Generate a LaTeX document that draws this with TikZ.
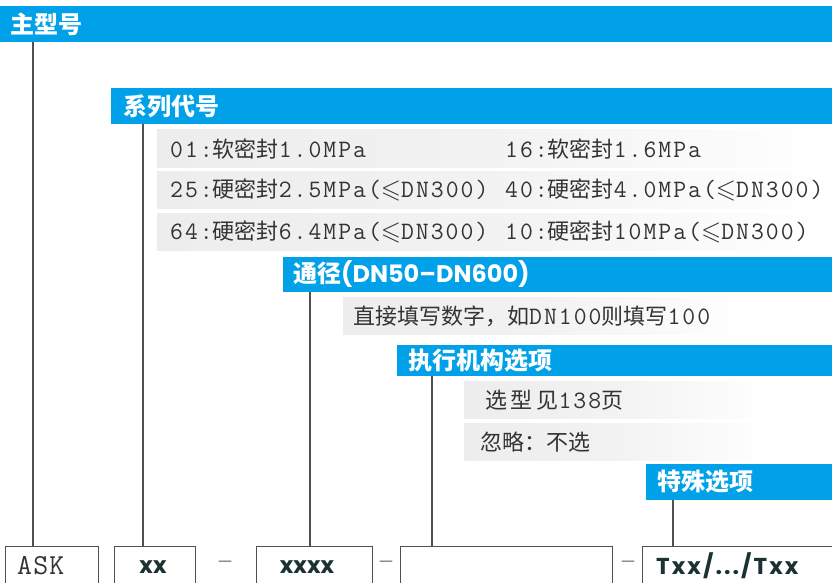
\documentclass[tikz,border=0pt]{standalone}
\usepackage{fontspec}
\usepackage{amssymb}
\newfontfamily\cjk{Noto Sans CJK SC}
\newfontfamily\lmt{Latin Modern Mono}[LetterSpace=8]
\newfontfamily\askfont{Latin Modern Mono}[LetterSpace=4]
\newfontfamily\pop{Poppins}
\newfontfamily\popw{Poppins}[LetterSpace=9]
\newfontfamily\dejavfont{DejaVu Sans}
\definecolor{barblue}{RGB}{0,161,233}
\definecolor{txtgray}{RGB}{51,51,51}
\definecolor{linegray}{RGB}{80,80,80}
\definecolor{rowgray}{RGB}{237,237,237}
\definecolor{codedark}{RGB}{28,50,50}
\newcommand{\lt}[1]{{\fontsize{25}{28}\selectfont\lmt #1}}
\newcommand{\myleq}{{\fontsize{26}{28}\selectfont$\leqslant$}}
\begin{document}
\begin{tikzpicture}[x=1pt,y=-1pt,
  bar/.style={fill=barblue, draw=none, anchor=north west, inner sep=0pt, outer sep=0pt},
  rowbox/.style={left color=rowgray, right color=white, middle color=rowgray!70, draw=none, anchor=north west, inner sep=0pt, outer sep=0pt},
  bartext/.style={anchor=west, inner sep=0pt, text=white, font=\fontsize{24}{28}\selectfont\cjk\bfseries},
  rowtext/.style={anchor=west, inner sep=0pt, text=txtgray, font=\fontsize{22}{26}\selectfont\cjk},
  codebox/.style={anchor=north west, inner sep=0pt, outer sep=0pt, minimum height=44pt},
  codetext/.style={inner sep=0pt, text=codedark, font=\fontsize{23}{26}\selectfont\pop\bfseries},
  conn/.style={draw=linegray, line width=1.2pt},
  boxline/.style={draw=linegray, line width=1pt},
  dashtext/.style={inner sep=0pt, text=linegray, font=\fontsize{14}{16}\selectfont\dejavfont}
]
\useasboundingbox (0,0) rectangle (832,582);
\clip (0,0) rectangle (832,582);

% header bars
\node[bar, minimum width=832pt, minimum height=36pt] (b1) at (0,6) {};
\node[bar, minimum width=721pt, minimum height=36pt] (b2) at (111,88) {};
\node[bar, minimum width=549pt, minimum height=35pt] (b3) at (283,257) {};
\node[bar, minimum width=435pt, minimum height=31pt] (b4) at (397,345) {};
\node[bar, minimum width=186pt, minimum height=36pt] (b5) at (646,464) {};

% gray rows
\node[rowbox, minimum width=675pt, minimum height=38pt] (r1) at (157,129) {};
\node[rowbox, minimum width=675pt, minimum height=37pt] (r2) at (157,171) {};
\node[rowbox, minimum width=675pt, minimum height=37pt] (r3) at (157,213) {};
\node[rowbox, minimum width=405pt, minimum height=37pt] (r4) at (343,297) {};
\node[rowbox, minimum width=306pt, minimum height=37pt] (r5) at (464,381) {};
\node[rowbox, minimum width=306pt, minimum height=37pt] (r6) at (464,423) {};

% header texts
\node[bartext] (t1) at (10,24) {主型号};
\node[bartext] (t2) at (123,106) {系列代号};
\node[bartext] (t3) at (293,274.5) {通径{\pop(DN50–DN600)}};
\node[bartext] (t4) at (408,360.5) {执行机构选项};
\node[bartext] (t5) at (657,482) {特殊选项};

% row texts
\node[rowtext] (x1) at (170,149) {\lt{01:}软密封\lt{1.0MPa}};
\node[rowtext] (x2) at (505,149) {\lt{16:}软密封\lt{1.6MPa}};
\node[rowtext] (x3) at (170,189.5) {\lt{25:}硬密封\lt{2.5MPa(}\myleq\lt{DN300)}};
\node[rowtext] (x4) at (505,189.5) {\lt{40:}硬密封\lt{4.0MPa(}\myleq\lt{DN300)}};
\node[rowtext] (x5) at (170,231.5) {\lt{64:}硬密封\lt{6.4MPa(}\myleq\lt{DN300)}};
\node[rowtext] (x6) at (505,231.5) {\lt{10:}硬密封\lt{10MPa(}\myleq\lt{DN300)}};
\node[rowtext] (x7) at (353,316) {直接填写数字，如\lt{DN100}则填写\lt{100}};
\node[rowtext] (x8) at (485,400) {选\,型\,见\lt{138}页};
\node[rowtext] (x9) at (480,442) {忽略：不选};

% bottom code boxes
\node[codebox, minimum width=93pt] (cA) at (5,546) {};
\node[codebox, minimum width=81pt] (cB) at (114,546) {};
\node[codebox, minimum width=116pt] (cC) at (256,546) {};
\node[codebox, minimum width=212pt] (cD) at (400,546) {};
\node[codebox, minimum width=210pt] (cE) at (642,546) {};
\foreach \c in {cA,cB,cC,cD,cE}{
  \draw[boxline] (\c.south west) |- (\c.north east) -- (\c.south east);
}
\node[anchor=west, inner sep=0pt, text=txtgray, font=\fontsize{29}{32}\selectfont\askfont] (ask) at (17,566) {ASK};
\node[codetext] (cx) at (153,567) {xx};
\node[codetext] (cxx) at (307,567) {xxxx};
\node[codetext, anchor=west, font=\fontsize{23}{26}\selectfont\popw\bfseries] (ct) at (656,566) {Txx/.{}.{}./Txx};
\node[dashtext] (d1) at (225,563) {—};
\node[dashtext] (d2) at (386,563) {—};
\node[dashtext] (d3) at (628,563) {—};

% connectors
\coordinate (pA) at ([xshift=28pt]cA.north west);
\coordinate (pB) at ([xshift=29pt]cB.north west);
\coordinate (pC) at ([xshift=54pt]cC.north west);
\coordinate (pD) at ([xshift=32pt]cD.north west);
\coordinate (pE) at ([xshift=31pt]cE.north west);
\draw[conn] (pA |- b1.south) -- (pA);
\draw[conn] (pB |- b2.south) -- (pB);
\draw[conn] (pC |- b3.south) -- (pC);
\draw[conn] (pD |- b4.south) -- (pD);
\draw[conn] (pE |- b5.south) -- (pE);
\end{tikzpicture}
\end{document}
